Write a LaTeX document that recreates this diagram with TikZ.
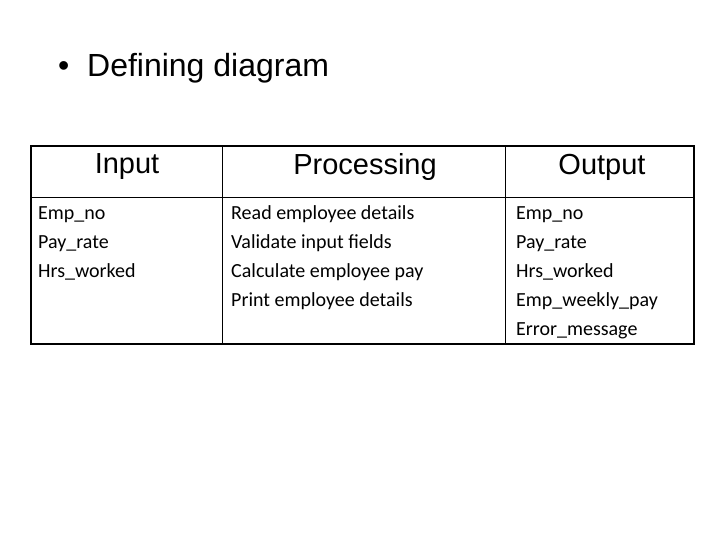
\documentclass[tikz,border=0pt]{standalone}
\usepackage{fontspec}
\setmainfont{Liberation Sans}
\newfontfamily\bodyfont{Carlito}
\begin{document}
\begin{tikzpicture}[x=1pt,y=-1pt,
  hdr/.style={font=\fontsize{29}{34}\selectfont,anchor=center,inner sep=0},
  cell/.style={font=\bodyfont\fontsize{20}{29}\selectfont,anchor=north west,align=left,inner sep=0}]
\useasboundingbox (0,0) rectangle (720,540);
\node[anchor=west,font=\fontsize{32}{37}\selectfont,inner sep=0] (title) at (58,68) {\textbullet\ \ Defining diagram};
\draw[line width=1.4pt] (31,146) rectangle (694,344);
\draw[line width=0.8pt] (31,197) -- (694,197);
\draw[line width=0.8pt] (222,146) -- (222,344);
\draw[line width=0.8pt] (505,146) -- (505,344);
\node[hdr] (hi) at (127,167) {Input};
\node[hdr] (hp) at (365,167) {Processing};
\node[hdr] (ho) at (602,167) {Output};
\node[cell] (ci) at (38,199) {\strut Emp\_no\\\strut Pay\_rate\\\strut Hrs\_worked};
\node[cell] (cp) at (231,199) {\strut Read employee details\\\strut Validate input fields\\\strut Calculate employee pay\\\strut Print employee details};
\node[cell] (co) at (516,199) {\strut Emp\_no\\\strut Pay\_rate\\\strut Hrs\_worked\\\strut Emp\_weekly\_pay\\\strut Error\_message};
\end{tikzpicture}
\end{document}
